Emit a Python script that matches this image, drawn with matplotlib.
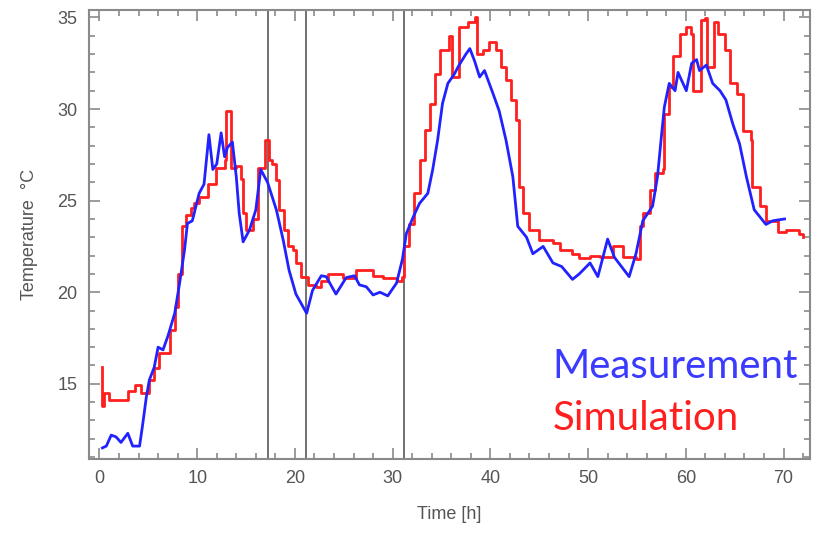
import matplotlib
matplotlib.use('Agg')
import matplotlib.pyplot as plt
from matplotlib.ticker import MultipleLocator

# measured temperature (blue)
meas_t = [0.3, 0.7, 1.2, 1.7, 2.2, 2.9, 3.4, 4.1, 4.4, 4.8,
          5.1, 5.6, 6.0, 6.5, 7.0, 7.7, 8.2, 8.7, 9.0, 9.5,
          10.2, 10.7, 11.2, 11.6, 12.0, 12.45, 12.8, 13.1, 13.6, 14.0,
          14.3, 14.7, 15.35, 16.0, 16.5, 17.2, 18.1, 18.8, 19.4, 20.1,
          21.2, 21.8, 22.7, 23.2, 24.2, 25.25, 26.1, 26.6, 27.3, 28.0,
          28.7, 29.5, 30.4, 31.0, 31.4, 32.1, 32.75, 33.6, 34.1, 34.6,
          35.1, 35.65, 36.3, 36.8, 37.5, 37.9, 38.4, 38.9, 39.4, 40.3,
          40.9, 41.6, 42.3, 42.8, 43.7, 44.35, 45.4, 46.4, 47.3, 48.4,
          49.1, 50.2, 51.0, 52.0, 52.7, 54.2, 54.9, 55.6, 56.6, 57.1,
          57.5, 57.8, 58.3, 58.9, 59.2, 60.05, 60.6, 61.1, 61.4, 62.1,
          62.75, 63.5, 64.1, 64.8, 65.5, 66.2, 67.0, 68.2, 68.9, 70.1]
meas_T = [11.5, 11.6, 12.2, 12.1, 11.8, 12.3, 11.6, 11.6, 12.7, 14.3,
          15.2, 15.9, 17.0, 16.85, 17.6, 18.85, 20.5, 22.3, 23.75, 23.9,
          25.4, 25.9, 28.6, 26.7, 27.0, 28.7, 27.4, 27.9, 28.2, 26.3,
          24.3, 22.75, 23.4, 24.5, 26.7, 26.0, 24.5, 22.85, 21.2, 19.9,
          18.85, 20.1, 20.9, 20.85, 19.9, 20.8, 20.9, 20.4, 20.3, 19.85,
          20.0, 19.8, 20.5, 21.8, 23.2, 24.1, 24.85, 25.4, 26.7, 28.3,
          30.3, 31.4, 31.9, 32.4, 33.0, 33.3, 32.6, 31.75, 32.1, 30.8,
          29.9, 28.3, 26.3, 23.6, 23.0, 22.1, 22.5, 21.6, 21.4, 20.7,
          21.0, 21.6, 20.85, 22.9, 21.9, 20.85, 22.1, 23.9, 24.7, 26.3,
          28.5, 30.1, 31.4, 31.0, 32.0, 31.0, 32.5, 32.7, 32.1, 32.4,
          31.4, 31.0, 30.5, 29.2, 28.1, 26.3, 24.5, 23.7, 23.9, 24.0]

# simulated temperature (red)
sim_t = [0.27, 0.27, 0.5, 1.0, 2.4, 2.9, 3.6, 4.3, 4.8, 5.1,
         5.6, 6.1, 7.2, 7.7, 8.0, 8.4, 8.9, 9.4, 9.7, 10.2,
         11.1, 11.9, 12.8, 12.9, 13.4, 13.5, 14.0, 14.5, 14.7, 15.0,
         15.7, 16.2, 16.9, 17.3, 17.7, 18.1, 18.4, 18.9, 19.3, 19.8,
         20.1, 20.6, 21.3, 22.2, 22.7, 23.4, 24.2, 24.9, 26.3, 28.0,
         29.0, 30.4, 31.0, 31.2, 31.7, 32.2, 32.75, 33.3, 33.8, 34.3,
         34.8, 35.8, 36.1, 36.7, 36.8, 37.7, 38.4, 38.6, 39.2, 39.9,
         40.6, 41.1, 41.6, 42.1, 42.6, 42.9, 43.3, 44.0, 45.0, 46.4,
         47.1, 48.4, 49.1, 50.2, 51.2, 52.5, 53.6, 54.9, 55.3, 55.6,
         56.3, 56.8, 57.7, 57.8, 58.3, 58.7, 59.4, 60.05, 60.5, 60.7,
         61.1, 61.6, 62.0, 62.2, 62.5, 62.9, 63.3, 64.0, 64.5, 65.2,
         65.9, 66.7, 66.8, 67.6, 68.2, 69.4, 70.3, 71.6, 72.0]
sim_T = [15.9, 13.8, 14.5, 14.1, 14.1, 14.6, 14.95, 14.5, 14.5, 15.2,
         15.85, 16.7, 17.95, 19.2, 21.0, 23.6, 24.2, 24.6, 24.85, 25.2,
         25.9, 26.8, 27.2, 29.9, 29.9, 26.8, 26.9, 26.2, 24.3, 23.4,
         24.0, 26.8, 28.3, 27.2, 27.0, 26.1, 24.5, 23.4, 22.5, 22.3,
         21.6, 20.85, 20.4, 20.3, 20.6, 21.0, 21.0, 20.75, 21.2, 20.9,
         20.75, 20.6, 20.85, 22.5, 23.75, 25.4, 27.2, 28.85, 30.3, 31.9,
         33.2, 34.0, 31.75, 31.75, 34.5, 34.75, 35.0, 33.0, 33.2, 33.65,
         33.2, 32.3, 31.6, 30.5, 29.4, 25.75, 24.3, 23.4, 22.85, 22.7,
         22.3, 22.1, 21.85, 22.0, 21.95, 22.5, 21.9, 21.8, 23.6, 24.3,
         25.6, 26.5, 26.75, 29.75, 31.2, 32.9, 34.1, 34.5, 34.1, 31.0,
         31.0, 34.85, 34.95, 32.3, 32.3, 34.75, 34.1, 33.2, 31.4, 30.8,
         28.8, 28.3, 25.75, 24.7, 23.9, 23.3, 23.4, 23.2, 23.0]

# time markers (vertical lines)
marks = [17.2, 21.1, 31.2]

frame = '#8a8a8a'
txt = '#555555'
plt.rcParams['font.family'] = ['Liberation Sans', 'DejaVu Sans']

fig = plt.figure(figsize=(8.14, 5.33), dpi=100)
ax = fig.add_axes([0.109, 0.139, 0.886, 0.842])

for m in marks:
    ax.axvline(m, color='#707070', lw=1.4, zorder=1)

ax.plot(meas_t, meas_T, color='#2222ff', lw=2, zorder=3)
# simulation output is piecewise constant
ax.plot(sim_t, sim_T, color='#ff1f1f', lw=2, zorder=2, drawstyle='steps-post')

ax.set_xlim(-1.1, 72.7)
ax.set_ylim(10.9, 35.4)
ax.xaxis.set_major_locator(MultipleLocator(10))
ax.xaxis.set_minor_locator(MultipleLocator(2))
ax.yaxis.set_major_locator(MultipleLocator(5))
ax.yaxis.set_minor_locator(MultipleLocator(1))
ax.tick_params(which='both', direction='in', top=True, right=True,
               color=frame, labelcolor=txt, labelsize=13, width=1.2)
ax.tick_params(which='major', length=8, pad=8)
ax.tick_params(which='minor', length=4)
for s in ax.spines.values():
    s.set_color(frame)
    s.set_linewidth(1.5)

ax.set_xlabel('Time [h]', color=txt, fontsize=13, labelpad=14)
ax.set_ylabel('Temperature  °C', color=txt, fontsize=13, labelpad=14)

ax.text(0.643, 0.205, 'Measurement', transform=ax.transAxes, ha='left',
        va='center', color='#3b3bff', fontsize=29, family='Lato')
ax.text(0.643, 0.091, 'Simulation', transform=ax.transAxes, ha='left',
        va='center', color='#ff1f1f', fontsize=29, family='Lato')

fig.savefig('out.png', dpi=100)
